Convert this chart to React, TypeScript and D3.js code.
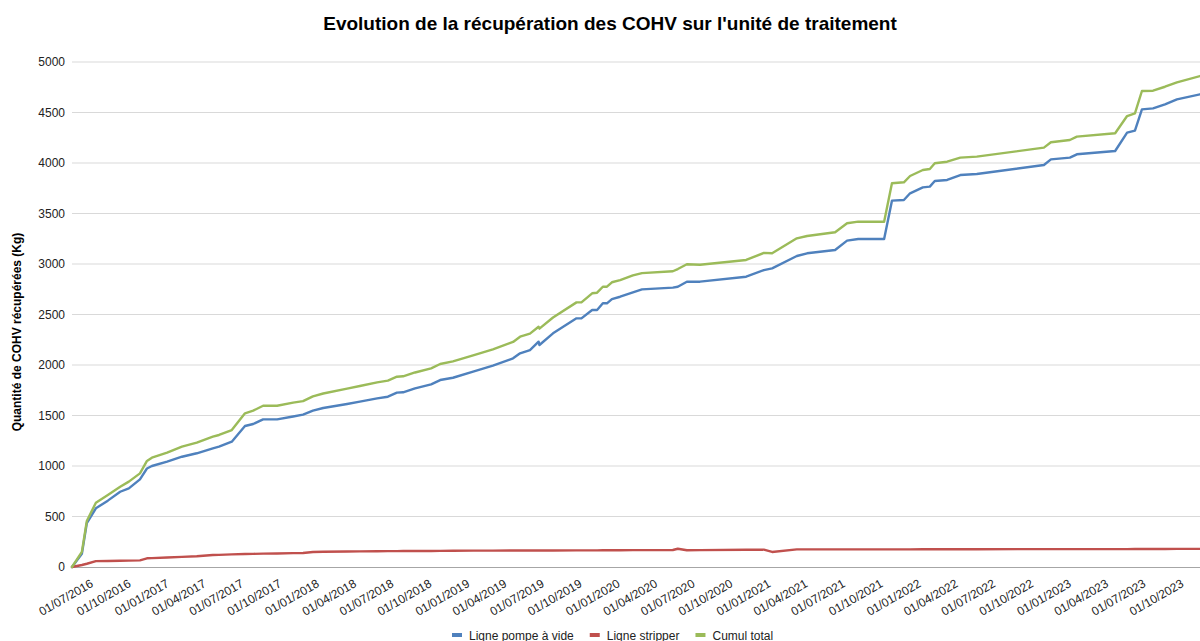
import React, { useEffect, useRef } from 'react';
import * as d3 from 'd3';

// dates of the readings (ISO)
const dates = [
  '2016-07-01', '2016-07-25', '2016-08-06', '2016-08-28', '2016-09-26', '2016-10-26', '2016-11-16', '2016-12-13',
  '2016-12-30', '2017-01-11', '2017-02-17', '2017-03-25', '2017-04-30', '2017-06-08', '2017-06-23', '2017-07-24',
  '2017-08-25', '2017-09-14', '2017-10-08', '2017-11-11', '2017-12-20', '2018-01-13', '2018-02-06', '2018-03-03',
  '2018-04-30', '2018-05-31', '2018-07-12', '2018-08-07', '2018-08-29', '2018-09-13', '2018-10-12', '2018-11-20',
  '2018-12-12', '2019-01-12', '2019-03-02', '2019-04-19', '2019-06-07', '2019-06-24', '2019-07-18', '2019-08-08',
  '2019-08-10', '2019-09-12', '2019-11-08', '2019-11-20', '2019-12-16', '2019-12-28', '2020-01-11', '2020-01-21',
  '2020-02-02', '2020-02-22', '2020-03-24', '2020-04-15', '2020-06-29', '2020-07-11', '2020-08-02', '2020-09-03',
  '2020-12-24', '2021-02-05', '2021-02-25', '2021-04-26', '2021-05-21', '2021-07-28', '2021-08-26', '2021-09-22',
  '2021-11-24', '2021-12-13', '2022-01-11', '2022-01-26', '2022-02-26', '2022-03-15', '2022-03-27', '2022-04-26',
  '2022-05-28', '2022-07-07', '2022-12-17', '2023-01-03', '2023-02-18', '2023-03-07', '2023-06-08', '2023-07-07',
  '2023-07-26', '2023-08-12', '2023-09-08', '2023-10-07', '2023-11-05', '2023-12-31',
];

const pompe = [
  0, 130, 435, 581, 657, 745, 779, 868,
  975, 1000, 1043, 1092, 1126, 1175, 1191, 1241,
  1396, 1416, 1462, 1462, 1490, 1508, 1548, 1574,
  1614, 1637, 1670, 1686, 1726, 1730, 1769, 1809,
  1851, 1874, 1934, 1993, 2066, 2116, 2148, 2231,
  2198, 2314, 2462, 2462, 2545, 2545, 2611, 2611,
  2653, 2676, 2720, 2749, 2766, 2775, 2825, 2825,
  2874, 2940, 2957, 3079, 3106, 3139, 3231, 3247,
  3247, 3627, 3634, 3700, 3759, 3766, 3822, 3832,
  3881, 3891, 3980, 4036, 4053, 4086, 4119, 4300,
  4320, 4531, 4541, 4581, 4630, 4680,
];

const stripper = [
  0, 20, 32, 58, 60, 62, 63, 66,
  86, 88, 94, 100, 107, 119, 120, 125,
  128, 130, 132, 134, 137, 139, 148, 151,
  153, 155, 156, 157, 157, 158, 158, 159,
  160, 161, 162, 162, 163, 163, 163, 164,
  164, 164, 165, 165, 165, 165, 166, 166,
  166, 166, 167, 167, 168, 181, 166, 167,
  171, 172, 149, 175, 175, 175, 175, 175,
  175, 175, 175, 175, 176, 176, 176, 176,
  176, 176, 177, 177, 177, 177, 177, 177,
  178, 178, 178, 178, 179, 179,
];

const cumul = [
  0, 150, 455, 637, 713, 795, 845, 927,
  1050, 1082, 1132, 1191, 1231, 1290, 1307, 1356,
  1522, 1548, 1597, 1597, 1628, 1642, 1690, 1718,
  1766, 1792, 1828, 1845, 1884, 1888, 1926, 1967,
  2010, 2036, 2096, 2155, 2228, 2280, 2310, 2379,
  2360, 2470, 2620, 2620, 2710, 2716, 2775, 2775,
  2819, 2840, 2887, 2910, 2928, 2950, 2997, 2992,
  3040, 3110, 3106, 3254, 3277, 3314, 3403, 3419,
  3419, 3799, 3809, 3871, 3931, 3941, 3997, 4013,
  4053, 4063, 4152, 4205, 4228, 4261, 4294, 4465,
  4492, 4713, 4716, 4755, 4799, 4861,
];

const seriesNames = ['Ligne pompe à vide', 'Ligne stripper', 'Cumul total'];
const seriesColors = ['#4f81bd', '#c0504d', '#9bbb59'];

const yTicks = [0, 500, 1000, 1500, 2000, 2500, 3000, 3500, 4000, 4500, 5000];
const xTickLabels = [
  '01/07/2016', '01/10/2016', '01/01/2017', '01/04/2017', '01/07/2017', '01/10/2017',
  '01/01/2018', '01/04/2018', '01/07/2018', '01/10/2018', '01/01/2019', '01/04/2019',
  '01/07/2019', '01/10/2019', '01/01/2020', '01/04/2020', '01/07/2020', '01/10/2020',
  '01/01/2021', '01/04/2021', '01/07/2021', '01/10/2021', '01/01/2022', '01/04/2022',
  '01/07/2022', '01/10/2022', '01/01/2023', '01/04/2023', '01/07/2023', '01/10/2023',
];
const xDomain = ['01/07/2016', '31/12/2023'];

const title = "Evolution de la récupération des COHV sur l'unité de traitement";
const yTitle = 'Quantité de COHV récupérées (Kg)';

const W = 1200;
const H = 641;
const FONT = '"Liberation Sans", Arial, sans-serif';

export default function App() {
  const svgRef = useRef<SVGSVGElement>(null);

  useEffect(() => {
    document.body.style.margin = '0';
    document.body.style.overflow = 'hidden';
    if (!svgRef.current) return;

    const svg = d3.select(svgRef.current);
    svg.selectAll('*').remove();

    const left = 72, right = 1200, top = 62, bottom = 567;
    const parseFr = d3.timeParse('%d/%m/%Y');
    const parseIso = d3.timeParse('%Y-%m-%d');

    const x = d3.scaleTime()
      .domain(xDomain.map(d => parseFr(d) as Date))
      .range([left, right]);
    const y = d3.scaleLinear().domain([0, 5000]).range([bottom, top]);

    svg.append('rect').attr('width', W).attr('height', H).attr('fill', '#fff');

    // title
    svg.append('text')
      .attr('x', 610).attr('y', 30)
      .attr('text-anchor', 'middle')
      .attr('font-family', FONT).attr('font-weight', 'bold').attr('font-size', 19)
      .attr('fill', '#000')
      .text(title);

    // grid
    svg.append('g')
      .selectAll('line')
      .data(yTicks.filter(t => t > 0))
      .enter().append('line')
      .attr('x1', left).attr('x2', right)
      .attr('y1', d => y(d)).attr('y2', d => y(d))
      .attr('stroke', '#d9d9d9').attr('stroke-width', 1);

    // y axis labels
    const yAxis = svg.append('g')
      .attr('transform', `translate(${left},0)`)
      .call(d3.axisLeft(y).tickValues(yTicks).tickSize(0).tickPadding(7).tickFormat(d => String(d)));
    yAxis.select('.domain').remove();
    yAxis.selectAll('text')
      .attr('font-family', FONT).attr('font-size', 12).attr('fill', '#222');

    // y title
    svg.append('text')
      .attr('transform', `translate(21,332) rotate(-90)`)
      .attr('text-anchor', 'middle')
      .attr('font-family', FONT).attr('font-weight', 'bold').attr('font-size', 12)
      .attr('fill', '#000')
      .text(yTitle);

    // x axis line
    svg.append('line')
      .attr('x1', left).attr('x2', right)
      .attr('y1', bottom + 0.5).attr('y2', bottom + 0.5)
      .attr('stroke', '#a6a6a6').attr('stroke-width', 1.2);

    // x labels
    svg.append('g')
      .selectAll('text')
      .data(xTickLabels)
      .enter().append('text')
      .attr('transform', d => `translate(${x(parseFr(d) as Date) + 22},586) rotate(-30)`)
      .attr('text-anchor', 'end')
      .attr('font-family', FONT).attr('font-size', 12).attr('fill', '#222')
      .text(d => d);

    // lines
    const parsed = dates.map(d => parseIso(d) as Date);
    const allSeries = [pompe, stripper, cumul];
    const line = d3.line<number>()
      .x((_, i) => x(parsed[i]))
      .y(d => y(d));

    allSeries.forEach((vals, k) => {
      svg.append('path')
        .datum(vals)
        .attr('d', line)
        .attr('fill', 'none')
        .attr('stroke', seriesColors[k])
        .attr('stroke-width', 2.4)
        .attr('stroke-linejoin', 'round')
        .attr('stroke-linecap', 'round');
    });

    // legend
    const legend = svg.append('g').attr('transform', 'translate(0,635)');
    let cx = 452;
    seriesNames.forEach((name, k) => {
      legend.append('rect')
        .attr('x', cx).attr('y', -2).attr('width', 10).attr('height', 4)
        .attr('fill', seriesColors[k]);
      const t = legend.append('text')
        .attr('x', cx + 17).attr('y', 4.5)
        .attr('font-family', FONT).attr('font-size', 12).attr('fill', '#222')
        .text(name);
      const w = (t.node() as SVGTextElement).getComputedTextLength();
      cx = cx + 17 + w + 16;
    });
  }, []);

  return <svg ref={svgRef} width={W} height={H} style={{ display: 'block' }} />;
}
